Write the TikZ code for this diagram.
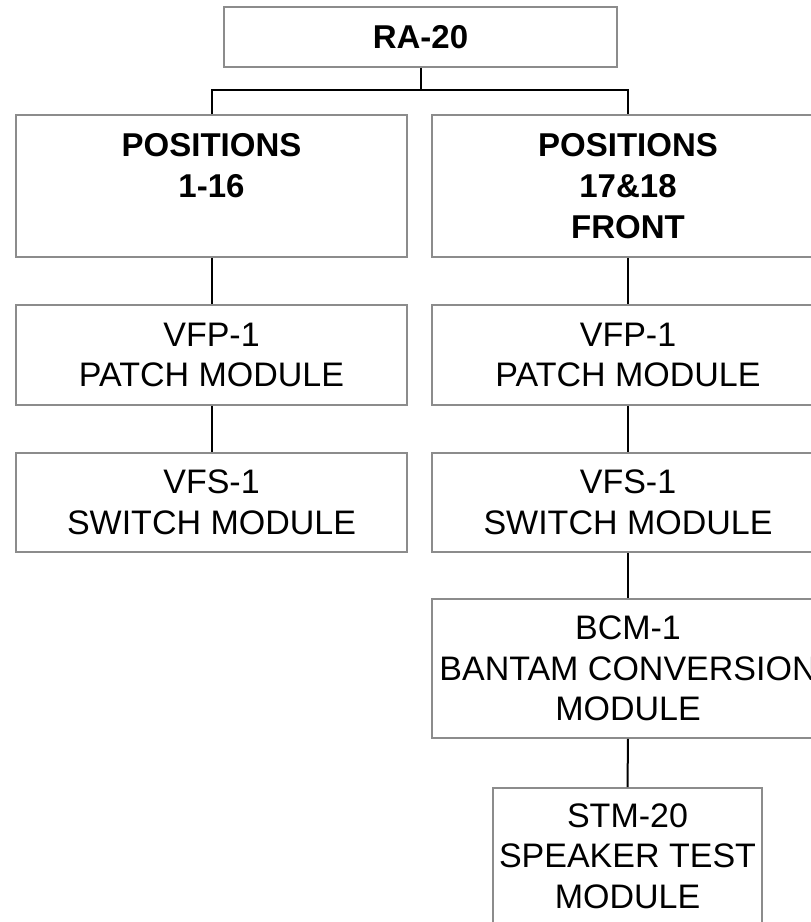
\documentclass[tikz,border=0pt]{standalone}
\usepackage{fontspec}
\setmainfont{Liberation Sans}
\begin{document}
\begin{tikzpicture}[x=1pt,y=-1pt,
  box/.style={draw=black!45,line width=1.8pt,fill=white,inner sep=0pt,align=center,
    font=\fontsize{34}{40.5}\selectfont},
  bbox/.style={box,font=\fontsize{33}{41}\selectfont\bfseries},
  conn/.style={draw=black,line width=2pt}]
\useasboundingbox (0,0) rectangle (811,922);
\node[bbox,minimum width=393pt,minimum height=60pt] (ra) at (420.5,37) {RA-20};
\node[bbox,minimum width=391pt,minimum height=142pt] (p1) at (211.5,186) {POSITIONS\\1-16\\\mbox{}};
\node[bbox,minimum width=392pt,minimum height=142pt] (p2) at (628,186) {POSITIONS\\17\&18\\FRONT};
\node[box,minimum width=391pt,minimum height=100pt] (vfpL) at (211.5,355) {VFP-1\\PATCH MODULE};
\node[box,minimum width=392pt,minimum height=100pt] (vfpR) at (628,355) {VFP-1\\PATCH MODULE};
\node[box,minimum width=391pt,minimum height=99pt] (vfsL) at (211.5,502.5) {VFS-1\\SWITCH MODULE};
\node[box,minimum width=392pt,minimum height=99pt] (vfsR) at (628,502.5) {VFS-1\\SWITCH MODULE};
\node[box,minimum width=392pt,minimum height=139pt] (bcm) at (628,668.5) {BCM-1\\BANTAM CONVERSION\\MODULE};
\node[box,minimum width=269pt,minimum height=136pt] (stm) at (627.5,856) {STM-20\\SPEAKER TEST\\MODULE};
\coordinate (bar) at (420.5,90);
\draw[conn] (ra.south) -- (bar);
\draw[conn] (p1.north) |- (bar) -| (p2.north);
\draw[conn] (p1.south) -- (vfpL.north);
\draw[conn] (vfpL.south) -- (vfsL.north);
\draw[conn] (p2.south) -- (vfpR.north);
\draw[conn] (vfpR.south) -- (vfsR.north);
\draw[conn] (vfsR.south) -- (bcm.north);
\draw[conn] (bcm.south) -- (stm.north);
\end{tikzpicture}
\end{document}
